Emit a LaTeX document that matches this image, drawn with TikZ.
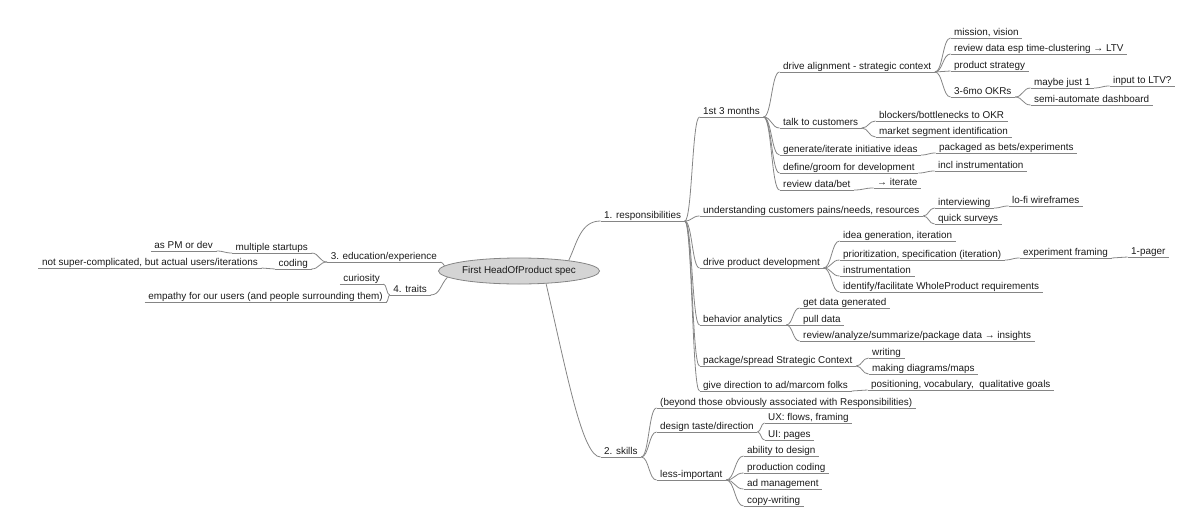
\documentclass[tikz,border=0pt]{standalone}
\usepackage{fontspec}
\setmainfont{Liberation Sans}
\usetikzlibrary{calc, shapes.geometric}
\definecolor{lineGray}{HTML}{858585}
\definecolor{textDark}{HTML}{1A1A1A}
\definecolor{rootFill}{HTML}{D4D4D4}

\begin{document}
\begin{tikzpicture}[
  x=1pt, y=-1pt,
  every node/.style={font=\fontsize{9.9}{11}\selectfont, text=textDark},
  uline/.style={draw=lineGray, line width=0.8pt},
  topic/.style={anchor=south west, inner xsep=3.5pt, inner ysep=0.8pt, text height=7.2pt, text depth=2pt,
    append after command={\pgfextra{\let\topicnode\tikzlastnode} (\topicnode.south west) edge[uline] (\topicnode.south east)}},
  ltopic/.style={topic, anchor=south east},
  rootnode/.style={ellipse, draw=lineGray, fill=rootFill, line width=0.8pt, minimum width=131pt, minimum height=26pt, inner sep=0pt},
  branch/.style={uline, to path={let \p1=(\tikztostart), \p2=(\tikztotarget) in
    .. controls ({(\x1+\x2)/2},\y1) and ({(\x1+\x2)/2},\y2) .. (\tikztotarget) \tikztonodes}}
]
\useasboundingbox (0,0) rectangle (1200,512);

\node[rootnode] (root) at (519,271) {First HeadOfProduct spec};

% Responsibilities
\node[topic] (resp) at (600.5,221) {1. responsibilities};
\node[topic] (months) at (699.5,117) {1st 3 months};
\node[topic] (custpains) at (699.5,216) {understanding customers pains/needs, resources};
\node[topic] (proddev) at (699.5,268) {drive product development};
\node[topic] (analytics) at (699.5,325) {behavior analytics};
\node[topic] (spread) at (699.5,366) {package/spread Strategic Context};
\node[topic] (marcom) at (699.5,391) {give direction to ad/marcom folks};

% 1st 3 months
\node[topic] (align) at (779.5,72) {drive alignment - strategic context};
\node[topic] (talk) at (779.5,128) {talk to customers};
\node[topic] (ideas) at (779.5,155) {generate/iterate initiative ideas};
\node[topic] (groom) at (779.5,173) {define/groom for development};
\node[topic] (reviewbet) at (779.5,190) {review data/bet};

\node[topic] (mission) at (950.5,38) {mission, vision};
\node[topic] (ltv) at (950.5,54) {review data esp time-clustering → LTV};
\node[topic] (strategy) at (950.5,71) {product strategy};
\node[topic] (okrs) at (950.5,97) {3-6mo OKRs};
\node[topic] (maybe) at (1030.5,88) {maybe just 1};
\node[topic] (inputltv) at (1109.5,86) {input to LTV?};
\node[topic] (dashboard) at (1030.5,105) {semi-automate dashboard};

\node[topic] (blockers) at (875.5,121) {blockers/bottlenecks to OKR};
\node[topic] (segment) at (875.5,137) {market segment identification};
\node[topic] (bets) at (935.5,153) {packaged as bets/experiments};
\node[topic] (instr) at (934.5,171) {incl instrumentation};
\node[topic] (iterate) at (873.5,188) {→ iterate};

% customers, development, analytics
\node[topic] (interview) at (934.5,208) {interviewing};
\node[topic] (wireframes) at (1008.5,206) {lo-fi wireframes};
\node[topic] (surveys) at (934.5,224) {quick surveys};

\node[topic] (ideagen) at (839.5,241) {idea generation, iteration};
\node[topic] (prio) at (839.5,260) {prioritization, specification (iteration)};
\node[topic] (framing) at (1019.5,258) {experiment framing};
\node[topic] (pager) at (1127.5,257) {1-pager};
\node[topic] (instrument) at (839.5,276) {instrumentation};
\node[topic] (wholeprod) at (839.5,292) {identify/facilitate WholeProduct requirements};

\node[topic] (getdata) at (799.5,308) {get data generated};
\node[topic] (pulldata) at (799.5,325) {pull data};
\node[topic] (insights) at (799.5,341) {review/analyze/summarize/package data → insights};

\node[topic] (writing) at (868.5,358) {writing};
\node[topic] (diagrams) at (868.5,374) {making diagrams/maps};
\node[topic] (positioning) at (867.5,390) {positioning, vocabulary,\ \ qualitative goals};

% Skills
\node[topic] (skills) at (600.5,457) {2. skills};
\node[topic] (beyond) at (656.5,408) {(beyond those obviously associated with Responsibilities)};
\node[topic] (taste) at (656.5,432) {design taste/direction};
\node[topic] (lessimp) at (656.5,480) {less-important};
\node[topic] (ux) at (764.5,423) {UX: flows, framing};
\node[topic] (ui) at (764.5,440) {UI: pages};
\node[topic] (abilitydesign) at (743.5,456) {ability to design};
\node[topic] (prodcoding) at (743.5,473) {production coding};
\node[topic] (admgmt) at (743.5,489) {ad management};
\node[topic] (copywriting) at (743.5,506) {copy-writing};

% Left side
\node[ltopic] (edu) at (440.5,262) {3. education/experience};
\node[ltopic] (startups) at (311.5,253) {multiple startups};
\node[ltopic] (pmdev) at (216.5,251) {as PM or dev};
\node[ltopic] (coding) at (311.5,269) {coding};
\node[ltopic] (notcomplex) at (261.5,268) {not super-complicated, but actual users/iterations};
\node[ltopic] (traits) at (430.5,295) {4. traits};
\node[ltopic] (curiosity) at (383.5,284) {curiosity};
\node[ltopic] (empathy) at (386.5,302) {empathy for our users (and people surrounding them)};

% Connectors from the root
\draw[uline] (root.12) to[out=65, in=180] (resp.south west);
\draw[uline] (root.-25) .. controls +(77:95) and +(-18,0) .. (skills.south west);
\draw[uline] (root.176) to[out=135, in=0] (edu.south east);
\draw[uline] (root.185) to[out=-135, in=0] (traits.south east);

% Connectors, right side
\foreach \a/\b in {resp/months, resp/custpains, resp/proddev, resp/analytics, resp/spread, resp/marcom,
  months/align, months/talk, months/ideas, months/groom, months/reviewbet,
  align/mission, align/ltv, align/strategy, align/okrs, okrs/maybe, maybe/inputltv, okrs/dashboard,
  talk/blockers, talk/segment, ideas/bets, groom/instr, reviewbet/iterate,
  custpains/interview, interview/wireframes, custpains/surveys,
  proddev/ideagen, proddev/prio, prio/framing, framing/pager, proddev/instrument, proddev/wholeprod,
  analytics/getdata, analytics/pulldata, analytics/insights,
  spread/writing, spread/diagrams, marcom/positioning,
  skills/beyond, skills/taste, skills/lessimp, taste/ux, taste/ui,
  lessimp/abilitydesign, lessimp/prodcoding, lessimp/admgmt, lessimp/copywriting}
  \draw[branch] (\a.south east) to (\b.south west);

% Connectors, left side
\foreach \a/\b in {edu/startups, startups/pmdev, edu/coding, coding/notcomplex, traits/curiosity, traits/empathy}
  \draw[branch] (\a.south west) to (\b.south east);
\end{tikzpicture}
\end{document}
